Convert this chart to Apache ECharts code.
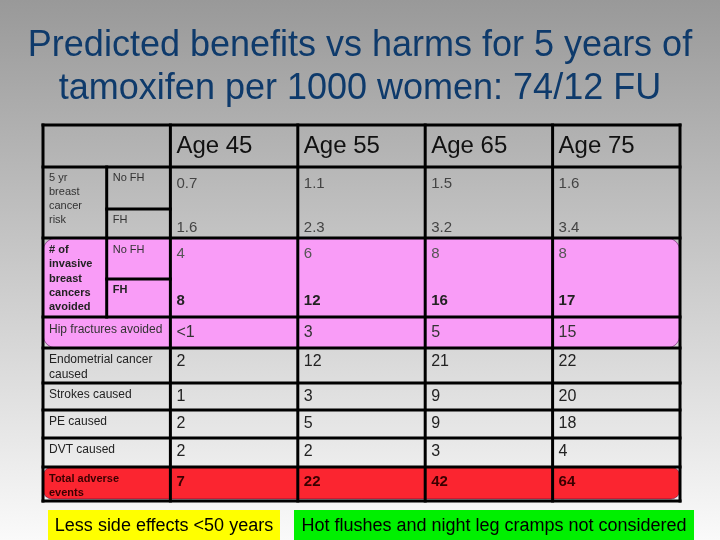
<!DOCTYPE html>
<html>
<head>
<meta charset="utf-8">
<script src="https://cdn.jsdelivr.net/npm/echarts@6/dist/echarts.min.js"></script>
<style>
  html, body { margin: 0; padding: 0; }
  #chart {
    width: 720px;
    height: 540px;
    background: linear-gradient(to bottom, #999999 0%, #fafafa 100%);
  }
</style>
</head>
<body>
<div id="chart"></div>
<script>
// table contents
const ages = ['Age 45', 'Age 55', 'Age 65', 'Age 75']
const riskNoFH = ['0.7', '1.1', '1.5', '1.6']
const riskFH = ['1.6', '2.3', '3.2', '3.4']
const cancersNoFH = [4, 6, 8, 8]
const cancersFH = [8, 12, 16, 17]
const hipFractures = ['<1', 3, 5, 15]
const endometrial = [2, 12, 21, 22]
const strokes = [1, 3, 9, 20]
const peCaused = [2, 5, 9, 18]
const dvtCaused = [2, 2, 3, 4]
const totalAdverse = [7, 22, 42, 64]
const harmLabels = ['Endometrial cancer\ncaused', 'Strokes caused', 'PE caused', 'DVT caused']
const harmValues = [endometrial, strokes, peCaused, dvtCaused]

// layout: row edges in y-axis units (table 377 units tall)
const ROW = {
  header: [0, 42],
  risk: [42, 84, 113],
  cancers: [113, 154, 192],
  hip: [192, 223],
  harms: [[223, 258], [258, 285], [285, 313], [313, 342]],
  total: [342, 374],
  bottom: 376
}
const FONT = '"Liberation Sans", Arial, sans-serif'

const cells = []
const addCell = (x0, x1, y0, y1, text, opts) => {
  cells.push(Object.assign({ value: [x0, y0, x1, y1], text: String(text), size: 16, pad: 3, va: 'top', color: '#222', weight: 'normal', lh: 14 }, opts))
}

// header
ages.forEach((a, i) => addCell(1 + i, 2 + i, ROW.header[0], ROW.header[1], a, { size: 24, va: 'middle', color: '#111' }))

// 5 yr risk
addCell(0, 0.5, ROW.risk[0], ROW.risk[2], '5 yr\nbreast\ncancer\nrisk', { size: 11, pad: 4, color: '#333' })
addCell(0.5, 1, ROW.risk[0], ROW.risk[1], 'No FH', { size: 11, pad: 4, color: '#333' })
addCell(0.5, 1, ROW.risk[1], ROW.risk[2], 'FH', { size: 11, pad: 4, color: '#333' })
riskNoFH.forEach((v, i) => addCell(1 + i, 2 + i, ROW.risk[0], ROW.risk[1], v, { size: 15, pad: 10, color: '#444' }))
riskFH.forEach((v, i) => addCell(1 + i, 2 + i, ROW.risk[1], ROW.risk[2], v, { size: 15, pad: 12, color: '#444' }))

// invasive cancers avoided
addCell(0, 0.5, ROW.cancers[0], ROW.cancers[2], '# of\ninvasive\nbreast\ncancers\navoided', { size: 11, pad: 5, weight: 'bold', lh: 14.3, color: '#222' })
addCell(0.5, 1, ROW.cancers[0], ROW.cancers[1], 'No FH', { size: 11, pad: 5, color: '#333' })
addCell(0.5, 1, ROW.cancers[1], ROW.cancers[2], 'FH', { size: 11, pad: 4, weight: 'bold', color: '#222' })
cancersNoFH.forEach((v, i) => addCell(1 + i, 2 + i, ROW.cancers[0], ROW.cancers[1], v, { size: 15, pad: 9, color: '#555' }))
cancersFH.forEach((v, i) => addCell(1 + i, 2 + i, ROW.cancers[1], ROW.cancers[2], v, { size: 15, pad: 15, weight: 'bold', color: '#222' }))

// hip fractures
addCell(0, 1, ROW.hip[0], ROW.hip[1], 'Hip fractures avoided', { size: 12, pad: 6, color: '#333' })
hipFractures.forEach((v, i) => addCell(1 + i, 2 + i, ROW.hip[0], ROW.hip[1], v, { size: 16, pad: 9, color: '#333' }))

// harms
harmLabels.forEach((lab, r) => {
  const [y0, y1] = ROW.harms[r]
  addCell(0, 1, y0, y1, lab, { size: 12, pad: 4, lh: 15, color: '#222' })
  harmValues[r].forEach((v, i) => addCell(1 + i, 2 + i, y0, y1, v, { size: 16, pad: 7, color: '#222' }))
})

// total
addCell(0, 1, ROW.total[0], ROW.total[1], 'Total adverse\nevents', { size: 11, pad: 5, weight: 'bold', color: '#3a0000' })
totalAdverse.forEach((v, i) => addCell(1 + i, 2 + i, ROW.total[0], ROW.total[1], v, { size: 15, pad: 8, weight: 'bold', color: '#3a0000' }))

// coloured bands
const bands = [
  { value: [0, ROW.cancers[0], 5, ROW.hip[1]], color: '#f99cf7', r: 13 },
  { value: [0, ROW.total[0], 5, ROW.total[1]], color: '#fb2530', r: 9 }
]

// table rules
const rules = [
  [0, ROW.header[0], 5, ROW.header[0]],
  [0, ROW.header[1], 5, ROW.header[1]],
  [0.5, ROW.risk[1], 1, ROW.risk[1]],
  [0, ROW.risk[2], 5, ROW.risk[2]],
  [0.5, ROW.cancers[1], 1, ROW.cancers[1]],
  [0, ROW.cancers[2], 5, ROW.cancers[2]],
  [0, ROW.hip[1], 5, ROW.hip[1]],
  ...ROW.harms.map(h => [0, h[1], 5, h[1]]),
  [0, ROW.bottom, 5, ROW.bottom],
  [0, ROW.header[0], 0, ROW.bottom],
  [0.5, ROW.header[1], 0.5, ROW.cancers[2]],
  [1, ROW.header[0], 1, ROW.bottom],
  [2, ROW.header[0], 2, ROW.bottom],
  [3, ROW.header[0], 3, ROW.bottom],
  [4, ROW.header[0], 4, ROW.bottom],
  [5, ROW.header[0], 5, ROW.bottom]
]

const chart = echarts.init(document.getElementById('chart'))

const option = {
  backgroundColor: 'transparent',
  animation: false,
  title: {
    text: 'Predicted benefits vs harms for 5 years of\ntamoxifen per 1000 women: 74/12 FU',
    left: 'center',
    top: 20,
    textStyle: {
      fontFamily: FONT,
      fontSize: 36,
      fontWeight: 'normal',
      lineHeight: 43,
      color: '#0e3a6b'
    }
  },
  grid: { left: 43, right: 40, top: 125, bottom: 38 },
  xAxis: { type: 'value', min: 0, max: 5, show: false },
  yAxis: { type: 'value', min: 0, max: 377, inverse: true, show: false },
  graphic: [
    { type: 'rect', shape: { x: 48, y: 510, width: 232, height: 31 }, style: { fill: '#ffff00' } },
    { type: 'text', x: 164, y: 526, style: { text: 'Less side effects <50 years', fontFamily: FONT, fontSize: 18, fill: '#000', align: 'center', verticalAlign: 'middle' } },
    { type: 'rect', shape: { x: 294, y: 510, width: 400, height: 31 }, style: { fill: '#00f000' } },
    { type: 'text', x: 494, y: 526, style: { text: 'Hot flushes and night leg cramps not considered', fontFamily: FONT, fontSize: 18, fill: '#000', align: 'center', verticalAlign: 'middle' } }
  ],
  series: [
    {
      type: 'custom',
      name: 'bands',
      silent: true,
      clip: false,
      z: 1,
      encode: { x: [0, 2], y: [1, 3] },
      data: bands.map(b => b.value),
      renderItem: (params, api) => {
        const b = bands[params.dataIndex]
        const p0 = api.coord([api.value(0), api.value(1)])
        const p1 = api.coord([api.value(2), api.value(3)])
        return {
          type: 'rect',
          shape: { x: p0[0], y: p0[1], width: p1[0] - p0[0], height: p1[1] - p0[1], r: b.r },
          style: { fill: b.color, stroke: 'rgba(60,0,60,0.5)', lineWidth: 1 }
        }
      }
    },
    {
      type: 'custom',
      name: 'rules',
      silent: true,
      clip: false,
      z: 3,
      encode: { x: [0, 2], y: [1, 3] },
      data: rules,
      renderItem: (params, api) => {
        const p0 = api.coord([api.value(0), api.value(1)])
        const p1 = api.coord([api.value(2), api.value(3)])
        return {
          type: 'line',
          shape: { x1: p0[0], y1: p0[1], x2: p1[0], y2: p1[1] },
          style: { stroke: '#000', lineWidth: 3, lineCap: 'square' }
        }
      }
    },
    {
      type: 'custom',
      name: 'cells',
      silent: true,
      clip: false,
      z: 4,
      encode: { x: [0, 2], y: [1, 3] },
      data: cells.map(c => c.value),
      renderItem: (params, api) => {
        const c = cells[params.dataIndex]
        const p0 = api.coord([api.value(0), api.value(1)])
        const p1 = api.coord([api.value(2), api.value(3)])
        const y = c.va === 'middle' ? (p0[1] + p1[1]) / 2 : p0[1] + c.pad
        return {
          type: 'text',
          x: p0[0] + 6,
          y: y,
          style: {
            text: c.text,
            fontFamily: FONT,
            fontSize: c.size,
            fontWeight: c.weight,
            lineHeight: c.lh,
            fill: c.color,
            align: 'left',
            verticalAlign: c.va
          }
        }
      }
    }
  ]
}

chart.setOption(option)
window.addEventListener('resize', () => chart.resize())
</script>
</body>
</html>
